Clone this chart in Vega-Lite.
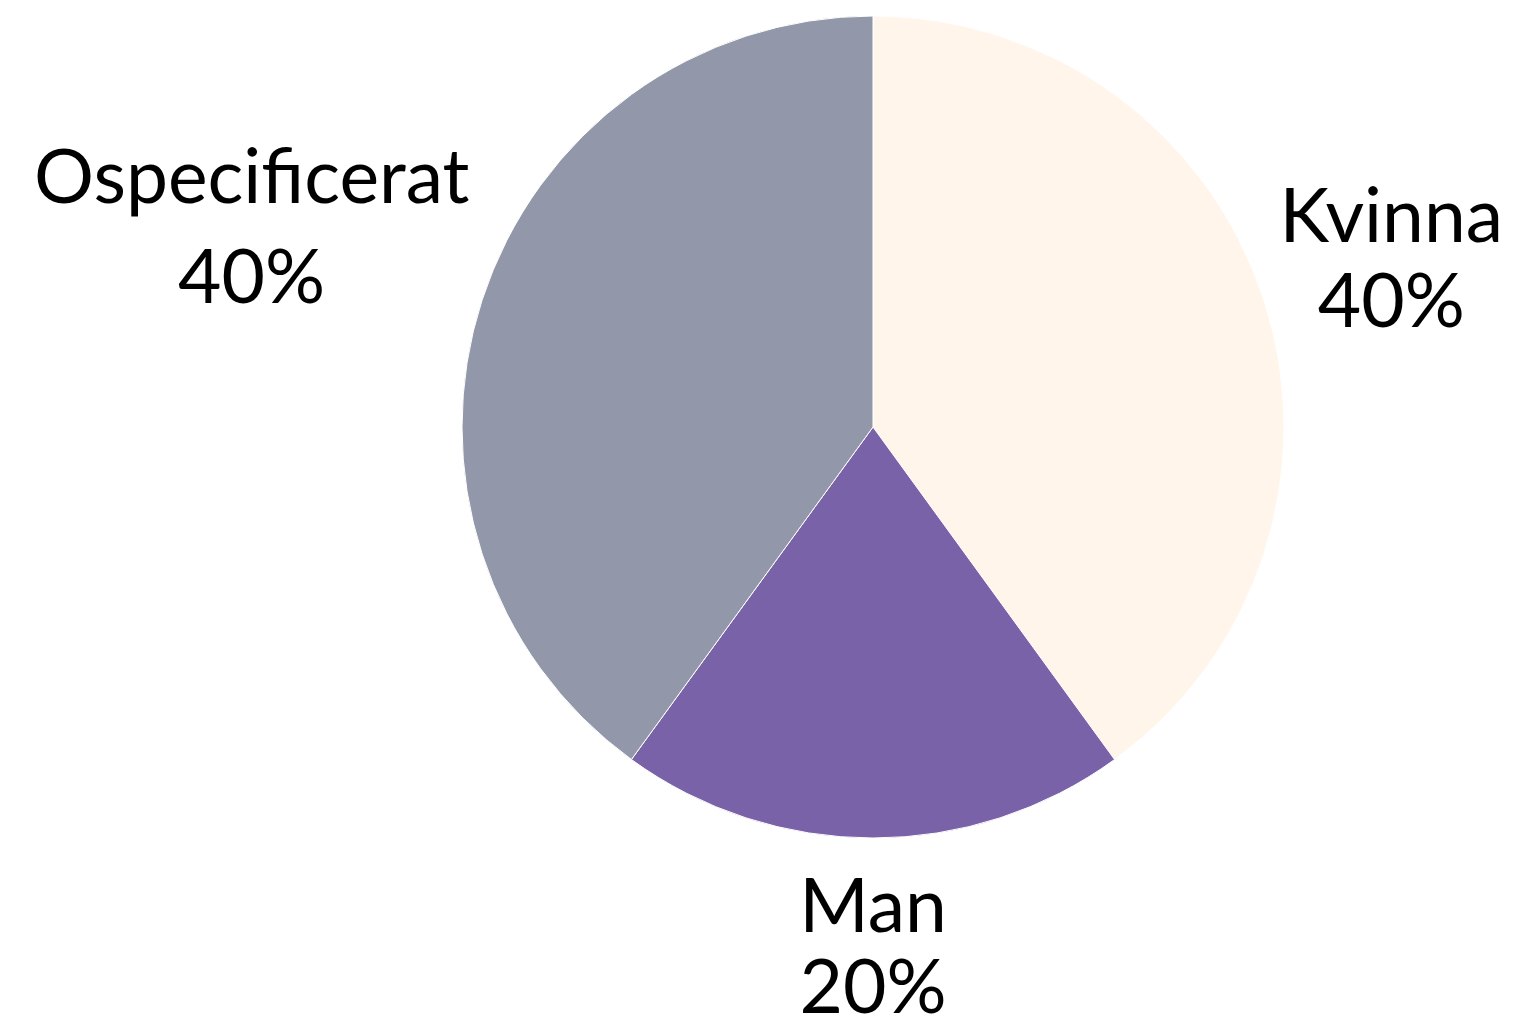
{
  "$schema": "https://vega.github.io/schema/vega-lite/v6.json",
  "width": 1290,
  "height": 854,
  "autosize": {"type": "none"},
  "padding": {"left": 228, "top": 0, "right": 0, "bottom": 171},
  "background": "#ffffff",
  "config": {"view": {"stroke": null}},
  "data": {
    "values": [
      {"kat": "Kvinna", "andel": 0.4},
      {"kat": "Man", "andel": 0.2},
      {"kat": "Ospecificerat", "andel": 0.4}
    ]
  },
  "encoding": {
    "theta": {"field": "andel", "type": "quantitative", "stack": true},
    "order": {"field": "kat", "type": "nominal", "sort": "ascending"},
    "color": {
      "field": "kat",
      "type": "nominal",
      "scale": {"domain": ["Kvinna", "Man", "Ospecificerat"], "range": ["#FFF5EB", "#7962A8", "#9298AA"]},
      "legend": null
    }
  },
  "layer": [
    {"mark": {"type": "arc", "outerRadius": 411, "stroke": "#ffffff", "strokeWidth": 1}},
    {
      "mark": {
        "type": "text", "radius": 545, "font": "Lato", "fontSize": 75,
        "align": "center", "baseline": "alphabetic",
        "dx": {"expr": "datum.kat === 'Ospecificerat' ? -103 : 0"},
        "dy": {"expr": "datum.kat === 'Kvinna' ? -17 : datum.kat === 'Man' ? -40 : -56"}
      },
      "encoding": {"text": {"field": "kat", "type": "nominal"}, "color": {"value": "#000000"}, "detail": {"field": "kat"}}
    },
    {
      "mark": {
        "type": "text", "radius": 545, "font": "Lato", "fontSize": 75,
        "align": "center", "baseline": "alphabetic",
        "dx": {"expr": "datum.kat === 'Ospecificerat' ? -103 : 0"},
        "dy": {"expr": "datum.kat === 'Kvinna' ? 68 : datum.kat === 'Man' ? 41 : 44"}
      },
      "encoding": {"text": {"field": "andel", "type": "quantitative", "format": ".0%"}, "color": {"value": "#000000"}, "detail": {"field": "kat"}}
    }
  ]
}
